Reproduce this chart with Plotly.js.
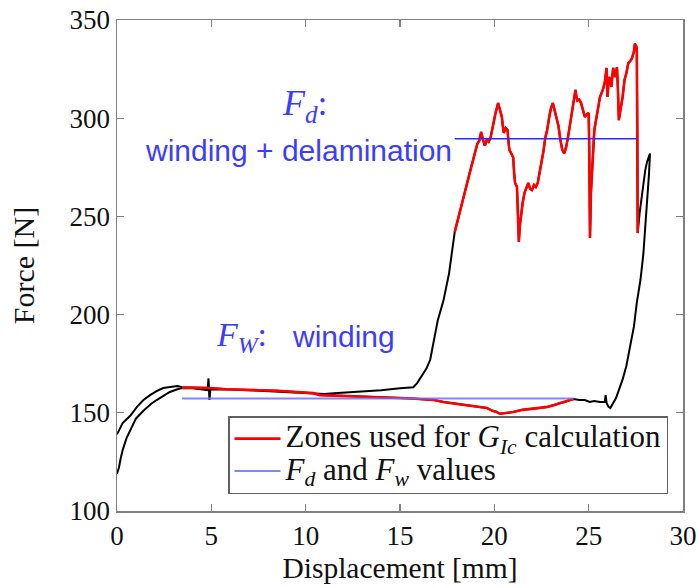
<!DOCTYPE html>
<html>
<head>
<meta charset="utf-8">
<script src="https://cdn.plot.ly/plotly-3.0.1.min.js"></script>
<style>html,body{margin:0;padding:0;background:#fff;}#chart{width:700px;height:588px;}</style>
</head>
<body>
<div id="chart"></div>
<script>
// ---- Data (displacement in mm, force in N) ----
// Loading branch (black), from start to beginning of delamination zone
const loadX = [0, 0.1, 0.2, 0.3, 0.5, 0.7, 1.0, 1.4, 1.8, 2.1, 2.5, 2.8, 3.2, 3.45, 4.0, 4.5, 4.8, 4.85, 4.9, 4.95, 5.5, 6.0, 7.0, 8.0, 9.0, 10.0, 10.5, 11.0, 11.5, 12.0, 13.0, 14.0, 15.0, 15.7, 15.9, 16.15, 16.4, 16.6, 17.0, 17.3, 17.6, 17.9];
const loadY = [119, 122, 127, 131, 137, 141, 147, 151, 154.5, 156.5, 159, 160.6, 162, 162.6, 162.5, 162, 161.5, 167.5, 156.5, 162, 162, 161.8, 161.5, 161, 160.5, 159.8, 159.5, 159.6, 160, 160.3, 160.8, 161.5, 162.5, 163, 165, 169, 172.5, 177, 197, 207, 221, 242];

// Winding + delamination zone (red, upper)
const delamX = [17.9, 18.0, 18.2, 18.4, 18.6, 18.8, 19.0, 19.1, 19.2, 19.3, 19.4, 19.5, 19.6, 19.7, 19.8, 19.9, 20.05, 20.2, 20.3, 20.4, 20.45, 20.5, 20.6, 20.7, 20.75, 20.8, 20.9, 21.0, 21.05, 21.1, 21.2, 21.25, 21.3, 21.35, 21.45, 21.5, 21.6, 21.7, 21.8, 21.9, 22.0, 22.1, 22.2, 22.3, 22.4, 22.5, 22.6, 22.7, 22.8, 22.9, 23.0, 23.1, 23.2, 23.3, 23.4, 23.5, 23.6, 23.7, 23.8, 23.9, 24.0, 24.1, 24.2, 24.3, 24.35, 24.4, 24.5, 24.6, 24.7, 24.8, 24.9, 25.0, 25.03, 25.07, 25.12, 25.2, 25.25, 25.3, 25.45, 25.6, 25.75, 25.85, 25.95, 26.0, 26.05, 26.1, 26.2, 26.3, 26.4, 26.5, 26.55, 26.6, 26.7, 26.8, 26.9, 27.0, 27.1, 27.2, 27.3, 27.4, 27.45, 27.55, 27.58, 27.6];
const delamY = [242, 246, 253, 261, 268.5, 276, 284, 287, 288.5, 293, 289, 286, 289, 288, 290, 295.5, 302, 307.7, 304, 300.6, 296, 292.5, 295, 294, 288, 283.8, 282, 280, 272, 267, 265, 252, 237, 245, 255, 256.8, 262, 265, 267, 264, 263.4, 266, 265, 267, 272, 277, 283, 290, 294, 300, 305, 307.7, 304, 300.6, 296, 289, 284, 282, 285, 290, 296, 303, 309, 314.4, 311, 309, 309.5, 307.7, 304, 300.6, 302, 302.6, 285, 239, 262, 273.6, 285, 294, 303, 310.8, 314.4, 318, 325.6, 310.8, 318, 321, 316, 325.6, 321, 326, 315, 299, 305, 310.8, 319.5, 323, 328, 329, 330.6, 334, 338, 336, 290, 241.5];

// End of loading and unloading branch (black)
const unloadX = [27.6, 27.7, 27.85, 28.0, 28.1, 28.25, 28.2, 28.1, 28.0, 27.9, 27.75, 27.55, 27.4, 27.2, 27.0, 26.8, 26.65, 26.45, 26.3, 26.15, 26.05, 25.95, 25.9, 25.85, 25.6, 25.3, 25.05, 24.8, 24.5, 24.2];
const unloadY = [241.5, 251.7, 263, 273.6, 278, 282, 272, 258, 245, 231, 218, 206, 194, 183.5, 174, 167, 163, 157.5, 155, 152.4, 153, 155, 159, 155.5, 155.5, 156, 155.5, 156.5, 156.5, 157];

// Winding-only zone (red, lower)
const windX = [24.2, 24.0, 23.75, 23.5, 23.2, 22.8, 22.4, 21.9, 21.5, 21.0, 20.6, 20.3, 20.1, 19.9, 19.6, 19.2, 18.8, 18.5, 17.9, 17.3, 16.8, 16.2, 15.6, 15.0, 14.0, 13.2, 12.3, 11.45, 11.0, 10.75, 10.4, 10.0, 9.7, 9.0, 8.5, 7.5, 6.7, 5.8, 4.9, 4.2, 3.45];
const windY = [157, 156.5, 155.5, 155, 154, 153, 152.5, 152, 151.5, 150.4, 150, 149.5, 150.5, 151, 152.5, 153, 153.5, 154, 155, 155.5, 156.5, 157, 157.3, 157.5, 157.8, 158, 158.2, 158.5, 158.8, 159, 160, 160.3, 160.6, 161, 161.2, 161.5, 161.6, 162, 162.6, 162.8, 162.8];

// Return to zero (black)
const returnX = [3.45, 3.2, 2.8, 2.45, 2.1, 1.75, 1.4, 1.06, 0.7, 0.3, 0];
const returnY = [163, 163.6, 163.2, 162.6, 161, 159, 156.5, 153, 148.5, 144.8, 139];

// Horizontal reference values
const Fd = 289.5;  const FdRange = [17.9, 27.55];
const Fw = 157.3;  const FwRange = [3.45, 24.2];

const xTicks = [0, 5, 10, 15, 20, 25, 30];
const yTicks = [100, 150, 200, 250, 300, 350];

const legendRed = 'Zones used for <i>G</i><sub><i>Ic</i></sub> calculation';
const legendBlue = '<i>F</i><sub><i>d</i></sub> and <i>F</i><sub><i>w</i></sub> values';

// ---- Build traces ----
const blackX = loadX.concat(delamX, unloadX, windX, returnX);
const blackY = loadY.concat(delamY, unloadY, windY, returnY);
const redX = delamX.concat([null], windX);
const redY = delamY.concat([null], windY);

const serif = '"Liberation Serif", "Times New Roman", serif';
const sans = '"Liberation Sans", Arial, sans-serif';
const blue = '#3c3cff';
const big = s => '<span style="font-size:31px">' + s + '</span>';

const traces = [
  {x: blackX, y: blackY, mode: 'lines', line: {color: '#000', width: 2}, showlegend: false, hoverinfo: 'skip'},
  {x: redX, y: redY, mode: 'lines', line: {color: '#ff0000', width: 2.6}, name: big(legendRed), connectgaps: false},
  {x: FwRange, y: [Fw, Fw], mode: 'lines', line: {color: 'rgba(110,110,255,0.85)', width: 2}, name: big(legendBlue)},
  {x: FdRange, y: [Fd, Fd], mode: 'lines', line: {color: '#2a2aff', width: 1.5}, showlegend: false}
];

const axisCommon = {
  showgrid: false, zeroline: false, showline: true, linecolor: '#808080', linewidth: 1.5,
  mirror: 'ticks', ticks: 'inside', ticklen: 7, tickcolor: '#808080', tickwidth: 1.2,
  tickfont: {family: serif, size: 27, color: '#111'}
};

const layout = {
  width: 700, height: 588,
  margin: {l: 117, r: 17, t: 20, b: 77},
  paper_bgcolor: '#fff', plot_bgcolor: '#fff',
  xaxis: Object.assign({}, axisCommon, {range: [0, 30], tickvals: xTicks, ticktext: xTicks.map(String),
    title: {text: 'Displacement [mm]', font: {family: serif, size: 29.5, color: '#111'}, standoff: 7}}),
  yaxis: Object.assign({}, axisCommon, {range: [100, 350], tickvals: yTicks, ticktext: yTicks.map(String),
    title: {text: 'Force [N]', font: {family: serif, size: 30, color: '#111'}, standoff: 26}}),
  legend: {x: 0.9735, y: 0.0346, xanchor: 'right', yanchor: 'bottom', bgcolor: '#fff',
    bordercolor: '#606060', borderwidth: 1.5, font: {family: serif, size: 22.5, color: '#111'},
    itemwidth: 46, tracegroupgap: 0},
  showlegend: true,
  annotations: [
    {x: 9.96, y: 306.7, xref: 'x', yref: 'y', showarrow: false, text: '<i>F</i><sub><i>d</i></sub>:',
      font: {family: serif, size: 36, color: blue}},
    {x: 9.6, y: 283.8, xref: 'x', yref: 'y', showarrow: false, text: 'winding + delamination',
      font: {family: sans, size: 30, color: blue}},
    {x: 6.6, y: 188.6, xref: 'x', yref: 'y', showarrow: false, text: '<i>F</i><sub><i>W</i></sub>:',
      font: {family: serif, size: 34, color: blue}},
    {x: 12.0, y: 188.6, xref: 'x', yref: 'y', showarrow: false, text: 'winding',
      font: {family: sans, size: 30, color: blue}}
  ]
};

Plotly.newPlot('chart', traces, layout, {displayModeBar: false, staticPlot: true});
</script>
</body>
</html>
